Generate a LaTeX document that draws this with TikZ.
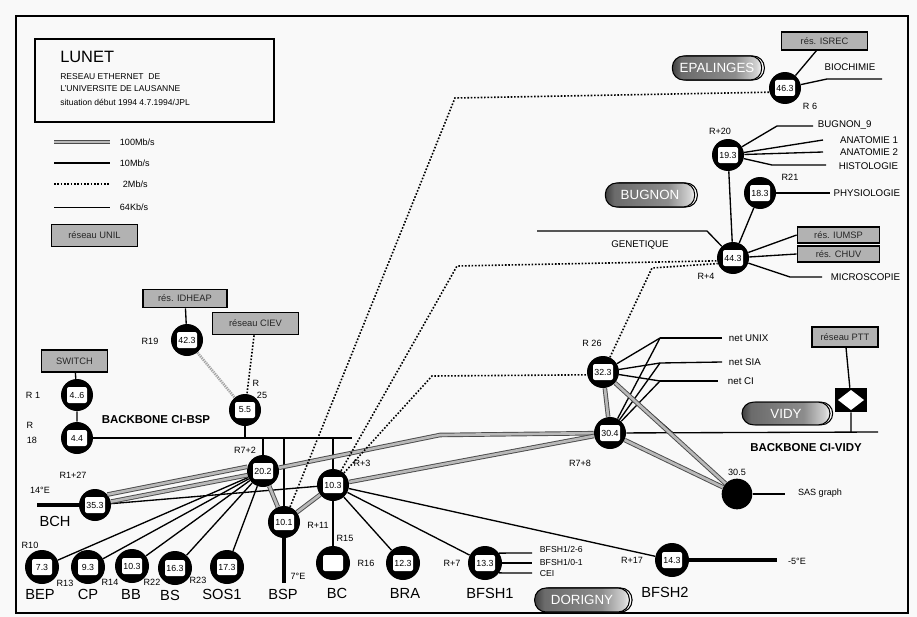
\documentclass[tikz,border=0pt]{standalone}
\usepackage{fontspec}
\setmainfont{Liberation Sans}
\usetikzlibrary{shadows}
\pgfdeclarehorizontalshading{pillshade}{100bp}{color(0bp)=(black!75); color(25bp)=(black!75); color(30bp)=(black!58); color(60bp)=(black!45); color(72bp)=(black!18); color(75bp)=(black!4); color(100bp)=(black!4)}
\begin{document}
\begin{tikzpicture}[x=0.75pt,y=-0.75pt,
  sq/.style={fill=white, rounded corners=1.5pt, minimum width=15pt, minimum height=12pt, inner sep=0.3pt, font=\fontsize{6.6}{6.6}\selectfont},
  rt/.style={circle, fill=black, minimum size=24pt, inner sep=0pt, label={[sq]center:#1}},
  rtb/.style={rt=#1, minimum size=25.5pt},
  gbox/.style={draw=black, line width=0.8pt, fill=gray!60, inner sep=1pt, font=\fontsize{7}{7.5}\selectfont, text=black!85},
  pill/.style={draw=black, line width=0.8pt, rounded corners=8.5pt, shading=pillshade, text=white, font=\fontsize{10}{12}\selectfont,
     copy shadow={shadow xshift=2pt, shadow yshift=0pt, fill=white, draw=black, line width=0.8pt}},
  lab/.style={font=\fontsize{6.8}{7.5}\selectfont, inner sep=0.5pt},
  rlab/.style={font=\fontsize{7.3}{8}\selectfont, inner sep=0.5pt},
  sml/.style={font=\fontsize{6.5}{7}\selectfont, inner sep=0.5pt},
  big/.style={font=\fontsize{11}{12}\selectfont, inner sep=0pt},
  bbone/.style={font=\bfseries\fontsize{8.6}{9}\selectfont, inner sep=0pt},
  ln/.style={line width=1pt},
  fat/.style={line width=3.5pt},
  mega/.style={draw=black!70, double=gray!55, double distance=2pt, line width=0.7pt},
  dots/.style={line width=1.2pt, dash pattern=on 1.2pt off 1.3pt},
  kb/.style={line width=0.6pt},
  stip/.style={draw=gray!70, line width=2pt, dash pattern=on 1pt off 0.7pt}]
\useasboundingbox (0,0) rectangle (917,617);
\fill[gray!5] (0,0) rectangle (917,617);
\draw[line width=1pt] (16,16) rectangle (908,613);

% legend
\draw[line width=0.8pt] (35,39) rectangle (274,122);
\node[anchor=west, font=\fontsize{12.3}{13}\selectfont, inner sep=0pt] (tlunet) at (60,57) {LUNET};
\node[anchor=west, font=\fontsize{6.4}{7}\selectfont, inner sep=0pt] (tl1) at (60,77) {RESEAU ETHERNET \ DE};
\node[anchor=west, font=\fontsize{6.4}{7}\selectfont, inner sep=0pt] (tl2) at (60,89) {L'UNIVERSITE DE LAUSANNE};
\node[anchor=west, font=\fontsize{6.4}{7}\selectfont, inner sep=0pt] (tl3) at (60,102) {situation début 1994 4.7.1994/JPL};
\draw[mega] (54,142) -- (110,142);
\draw[ln] (54,163) -- (110,163);
\draw[dots] (54,184) -- (110,184);
\draw[kb] (54,207) -- (110,207);
\node[anchor=west, lab] (tg100) at (119,142) {100Mb/s};
\node[anchor=west, lab] (tg10) at (119,163) {10Mb/s};
\node[anchor=west, lab] (tg2) at (122,184) {2Mb/s};
\node[anchor=west, lab] (tg64) at (119,207) {64Kb/s};
\node[gbox, minimum width=64pt, minimum height=17pt] (unil) at (94.5,235.5) {réseau UNIL};

% routers
\node[rt=46.3] (n46) at (785,88) {};
\node[rt=19.3] (n19) at (728,155) {};
\node[rt=18.3] (n18) at (760,193) {};
\node[rt=44.3] (n44) at (733,258) {};
\node[rt=32.3] (n32) at (603,372) {};
\node[rt=30.4] (n30) at (610,433) {};
\node[circle, fill=black, minimum size=23pt, inner sep=0pt] (n305) at (737,494) {};
\node[rtb=14.3] (n14) at (672,560) {};
\node[rtb=13.3] (n13) at (485,563) {};
\node[rtb=12.3] (n12) at (403,563) {};
\node[rtb={}] (nbc) at (333,563) {};
\node[rt=10.3] (n103) at (333,485) {};
\node[rt=10.1] (n101) at (284,522) {};
\node[rt=20.2] (n202) at (263,471) {};
\node[rt=5.5] (n55) at (245,410) {};
\node[rt=42.3] (n42) at (187,340) {};
\node[rt=4..6] (n46a) at (77,395) {};
\node[rt=4.4] (n44a) at (77,438) {};
\node[rt=35.3] (n35) at (95,505) {};
\node[rtb=7.3] (n73) at (42,567) {};
\node[rtb=9.3] (n93) at (88,567) {};
\node[rtb=10.3] (nbb) at (132,566) {};
\node[rtb=16.3] (n163) at (175,568) {};
\node[rtb=17.3] (n173) at (227,567) {};

% grey boxes
\node[gbox, minimum width=63pt, minimum height=14pt] (idheap) at (185,298.5) {rés. IDHEAP};
\node[gbox, minimum width=64pt, minimum height=17pt] (ciev) at (255.5,323.5) {réseau CIEV};
\node[gbox, minimum width=49pt, minimum height=16.5pt] (switch) at (74.5,361) {SWITCH};
\node[gbox, minimum width=64pt, minimum height=13.5pt] (isrec) at (824.5,41) {rés. ISREC};
\node[gbox, minimum width=62pt, minimum height=12pt] (iumsp) at (838.5,235) {rés. IUMSP};
\node[gbox, minimum width=62pt, minimum height=12pt] (chuv) at (838.5,254) {rés. CHUV};
\node[gbox, minimum width=49.5pt, minimum height=15pt] (ptt) at (845,337) {réseau PTT};

% site pills
\node[pill, minimum width=67pt, minimum height=18pt] (epal) at (717,68) {EPALINGES};
\node[pill, minimum width=67pt, minimum height=18pt] (bugnon) at (650,195) {BUGNON};
\node[pill, minimum width=66pt, minimum height=17pt] (vidy) at (786,413.5) {VIDY};
\node[pill, minimum width=71pt, minimum height=18pt] (dorigny) at (582,600) {DORIGNY};

% PTT converter
\node[fill=black, minimum width=24pt, minimum height=18pt, inner sep=0pt] (dia) at (851,400) {};
\fill[white] (838,400) -- (851,390) -- (864,400) -- (851,410) -- cycle;

% coordinates
\coordinate (b1) at (245,438);
\coordinate (b2) at (263,438);
\coordinate (b3) at (284,438);
\coordinate (b4) at (333,438);
\coordinate (bend) at (352,438);
\coordinate (bspend) at (284,583);
\coordinate (bchw) at (37,505);
\coordinate (e5) at (777,560);
\coordinate (f1) at (660,338);
\coordinate (f2) at (660,363);
\coordinate (f3) at (660,381);
\coordinate (vend) at (878,432);

% 10 Mb/s links
\draw[ln] (switch) -- (n46a) -- (n44a);
\draw[ln] (idheap) -- (n42);
\draw[ln] (isrec) -- (n46);
\draw[ln] (n44a) -- (bend);
\draw[ln] (n55) -- (b1);
\draw[ln] (b2) -- (n202);
\draw[ln] (b3) -- (n101);
\draw[ln] (b4) -- (n103);
\foreach \t in {n73,n93,nbb,n163,n173} \draw[ln] (n202) -- (\t);
\draw[ln] (n35) -- (n103);
\draw[ln] (n103) -- (nbc);
\draw[ln] (n103) -- (n12);
\draw[ln] (n103) -- (n13);
\draw[ln] (n103) -- (n14);
\draw[ln] (n13.35) -- (532,553);
\draw[ln] (n13.east) -- (532,563);
\draw[ln] (n13.-35) -- (532,573);
\draw[ln] (n46) -- (827,79) -- (882,79);
\draw[ln] (n19) -- (777,126) -- (813,126);
\draw[ln] (n19) -- (823,140);
\draw[ln] (n19) -- (823,152);
\draw[ln] (n19) -- (772,165) -- (826,165);
\draw[ln] (n19) -- (n44);
\draw[ln] (n18) -- (n44);
\draw[ln] (n18) -- (830,193);
\draw[ln] (n44) -- (iumsp.west);
\draw[ln] (n44) -- (chuv.west);
\draw[ln] (n44) -- (790,277) -- (822,277);
\draw[ln] (537,231) -- (707,231) -- (n44);
\foreach \f in {f1,f2,f3} {\draw[ln] (n32) -- (\f); \draw[ln] (n30) -- (\f);}
\draw[ln] (f1) -- (722,338);
\draw[ln] (f2) -- (722,362);
\draw[ln] (f3) -- (718,381);
\draw[ln] (n32) -- (673,433);
\draw[ln] (n30) -- (vend);
\draw[ln] (ptt) -- (dia) -- (851,432);
\draw[ln] (n305) -- (785,494);

% thick links
\draw[fat] (n101) -- (bspend);
\draw[fat] (bchw) -- (n35);
\draw[fat] (n14) -- (e5);

% 100 Mb/s links
\draw[mega] (n35.40) -- (n202.165);
\draw[mega] (n35.12) -- (n202.195);
\draw[mega] (n202) -- (440,435) -- (n30);
\draw[mega] (n202) -- (n101);
\draw[mega] (n101) -- (n103);
\draw[mega] (n103) -- (n30);
\draw[mega] (n32) -- (n30);
\draw[mega] (n32) -- (n305);
\draw[mega] (n30) -- (n305);

% 2 Mb/s links
\draw[dots] (n101) -- (455,98) -- (n46.195);
\draw[dots] (n103) -- (457,266) -- (n44.190);
\draw[dots] (n103) -- (432,376) -- (n32.190);
\draw[dots] (n32) -- (652,268) -- (n44.200);
\draw[dots] (ciev) -- (n55);
\draw[stip] (n42) -- (n55);

% labels
\node[lab] (tr6) at (810,106) {R 6};
\node[lab] (tr20) at (720,131) {R+20};
\node[lab] (tr21) at (790,177) {R21};
\node[lab] (tr4) at (706,276) {R+4};
\node[lab] (tr26) at (592,343) {R 26};
\node[lab] (tr78) at (580,463) {R7+8};
\node[lab] (t305) at (737,472) {30.5};
\node[lab] (tr17) at (632,560) {R+17};
\node[lab] (tr7) at (452,563) {R+7};
\node[lab] (tr16) at (366,563) {R16};
\node[lab] (tr15) at (345,538) {R15};
\node[lab] (tr11) at (318,525) {R+11};
\node[lab] (tr3) at (362,463) {R+3};
\node[lab] (t7e) at (298,576) {7°E};
\node[lab] (tr72) at (245,450) {R7+2};
\node[lab] (tr127) at (73,475) {R1+27};
\node[lab] (t14e) at (40,490) {14°E};
\node[lab] (tr10) at (30,545) {R10};
\node[lab] (tr13) at (65,583) {R13};
\node[lab] (tr14) at (110,582) {R14};
\node[lab] (tr22) at (152,582) {R22};
\node[lab] (tr23) at (198,580) {R23};
\node[lab] (tr19) at (150,341) {R19};
\node[lab] (tr25a) at (256,383) {R};
\node[lab] (tr25b) at (262,395) {25};
\node[lab] (tr1) at (33,395) {R 1};
\node[lab] (tr18a) at (30,425) {R};
\node[lab] (tr18b) at (32,440) {18};
\node[lab] (t5e) at (797,561) {-5°E};
\node[lab] (tsas) at (820,493) {SAS graph};

\node[rlab] (tbio) at (850,67) {BIOCHIMIE};
\node[rlab, anchor=west] (tbug9) at (817,125) {BUGNON\_9};
\node[rlab, anchor=east] (tana1) at (899,140) {ANATOMIE 1};
\node[rlab, anchor=east] (tana2) at (899,152) {ANATOMIE 2};
\node[rlab, anchor=east] (thist) at (899,166) {HISTOLOGIE};
\node[rlab, anchor=east] (tphys) at (901,193) {PHYSIOLOGIE};
\node[rlab, anchor=east] (tmicro) at (901,277) {MICROSCOPIE};
\node[rlab] (tgen) at (640,245) {GENETIQUE};
\node[rlab, anchor=west] (tunix) at (728,338) {net UNIX};
\node[rlab, anchor=west] (tsia) at (728,362) {net SIA};
\node[rlab, anchor=west] (tci) at (727,381) {net CI};
\node[sml, anchor=west] (tbf1) at (539,549) {BFSH1/2-6};
\node[sml, anchor=west] (tbf2) at (539,562) {BFSH1/0-1};
\node[sml, anchor=west] (tbf3) at (539,574) {CEI};

\node[big] (tbch) at (55,521) {BCH};
\node[big] (tbep) at (40,594) {BEP};
\node[big] (tcp) at (88,594) {CP};
\node[big] (tbbl) at (131,594) {BB};
\node[big] (tbs) at (170,595) {BS};
\node[big] (tsos) at (222,594) {SOS1};
\node[big] (tbsp) at (283,594) {BSP};
\node[big] (tbc) at (337,593) {BC};
\node[big] (tbra) at (405,593) {BRA};
\node[big] (tbfsh1) at (490,593) {BFSH1};
\node[big] (tbfsh2) at (665,592) {BFSH2};

\node[bbone] (tcibsp) at (156,420) {BACKBONE CI-BSP};
\node[bbone] (tcividy) at (806,448) {BACKBONE CI-VIDY};
\end{tikzpicture}
\end{document}
